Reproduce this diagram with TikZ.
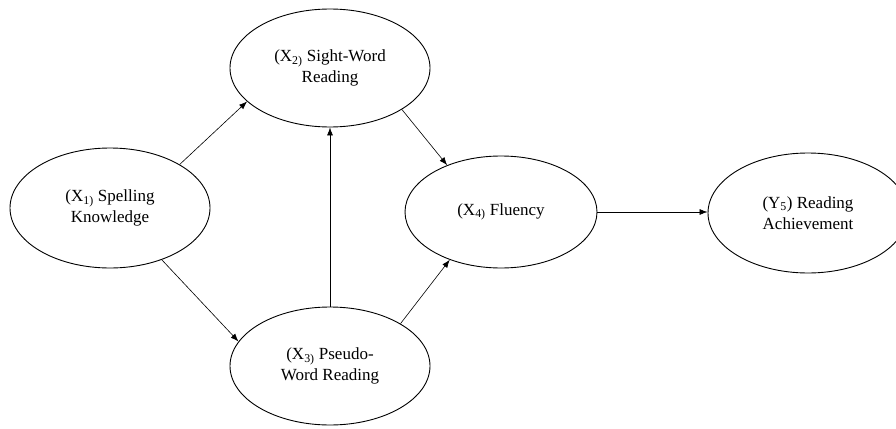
\documentclass[tikz,border=0pt]{standalone}
\usepackage{fontspec}
\setmainfont{Liberation Serif}
\usetikzlibrary{arrows.meta,shapes.geometric}
\begin{document}
\begin{tikzpicture}[x=1pt,y=-1pt,
  var/.style={draw,ellipse,line width=0.9pt,inner sep=0pt,align=center,
    font=\fontsize{17}{21}\selectfont},
  conn/.style={line width=0.6pt,-{Latex[length=8pt,width=6pt]}}]
\useasboundingbox (0,0) rectangle (896,428);
\node[var,minimum width=200pt,minimum height=120pt] (X1) at (110,208) {(X\textsubscript{1)} Spelling\\Knowledge};
\node[var,minimum width=200pt,minimum height=118pt] (X2) at (330,68) {(X\textsubscript{2)} Sight-Word\\Reading};
\node[var,minimum width=200pt,minimum height=118pt] (X3) at (330,366) {(X\textsubscript{3)} Pseudo-\\Word Reading};
\node[var,minimum width=192pt,minimum height=112pt] (X4) at (501,212) {(X\textsubscript{4)} Fluency};
\node[var,minimum width=200pt,minimum height=120pt] (Y5) at (808,213) {(Y\textsubscript{5}) Reading\\Achievement};
\draw[conn] (X1.32.7) -- (X2.202.3);
\draw[conn] (X1.-45.5) -- (X3.165.7);
\draw[conn] (X3.north) -- (X2.south);
\draw[conn] (X2.-30.4) -- (X4.139);
\draw[conn] (X3.31.6) -- (X4.223.9);
\draw[conn] (X4.east) -- (X4.east -| Y5.west);
\end{tikzpicture}
\end{document}
